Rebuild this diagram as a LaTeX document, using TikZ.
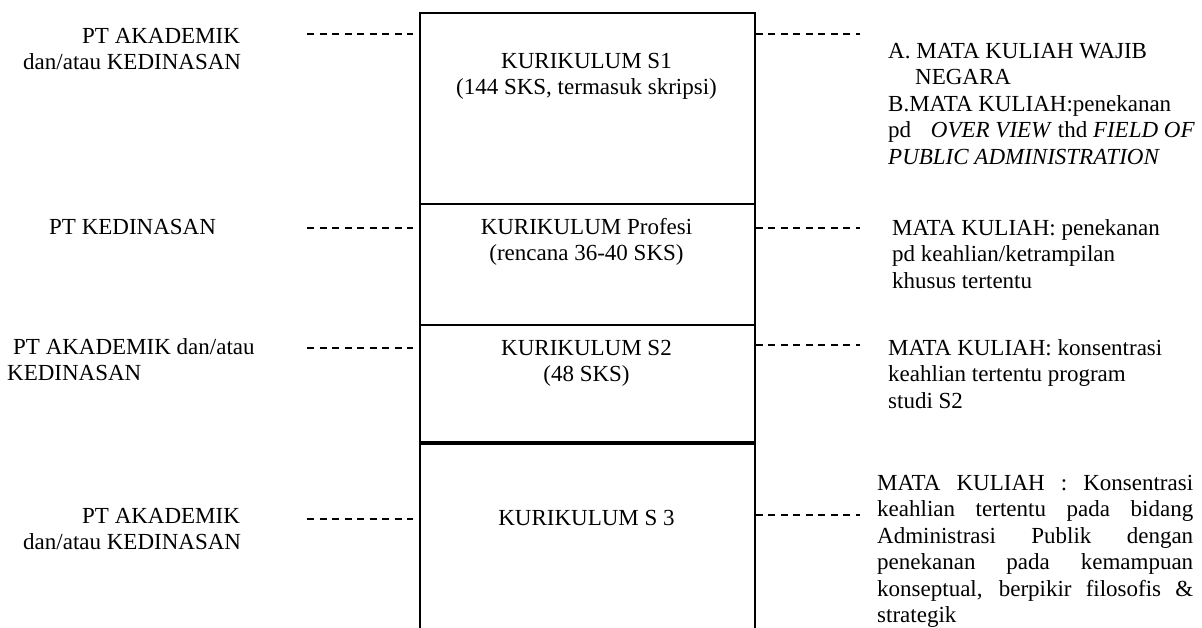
\documentclass[tikz,border=0pt]{standalone}
\usepackage{fontspec}
\setmainfont{Liberation Serif}
\newcommand\jline[1]{\makebox[316pt][s]{#1}}

\begin{document}
\begin{tikzpicture}
    [
      x=1pt,
      y=-1pt,
      sect/.style={rectangle,draw=black,line width=1.8pt,minimum width=335pt,anchor=north west,inner sep=0pt},
      lbl/.style={align=left,anchor=base west,inner sep=0pt,font=\fontsize{23}{26.5}\selectfont},
      ttl/.style={lbl,align=center,anchor=base},
      dashln/.style={line width=1.9pt,dash pattern=on 7pt off 5.5pt},
    ]
    \clip (0,0) rectangle (1202,627);

    \node at (419,12)  [sect, minimum height=191pt] (s1) {};
    \node at (419,203) [sect, minimum height=121pt] (s2) {};
    \node at (419,324) [sect, minimum height=119pt] (s3) {};
    \node at (419,443) [sect, minimum height=260pt] (s4) {};
    \draw[line width=3.2pt] (s4.north west) -- (s4.north east);

    % base = last line
    \node at (586.5,94.5)  [ttl] (t1) {KURIKULUM S1\\(144 SKS, termasuk skripsi)};
    \node at (586.5,260.5) [ttl] (t2) {KURIKULUM Profesi\\(rencana 36-40 SKS)};
    \node at (586.5,381.5) [ttl] (t3) {KURIKULUM S2\\(48 SKS)};
    \node at (586.5,525)   [ttl] (t4) {KURIKULUM S 3};

    \node at (23,69.5)  [lbl] (a1) {\hspace*{59pt}PT AKADEMIK\\dan/atau KEDINASAN};
    \node at (49,234)   [lbl] (a2) {PT KEDINASAN};
    \node at (7,380.5)  [lbl] (a3) {\hspace*{6pt}PT AKADEMIK dan/atau\\KEDINASAN};
    \node at (23,549.5) [lbl] (a4) {\hspace*{59pt}PT AKADEMIK\\dan/atau KEDINASAN};

    \node at (888,164)   [lbl] (b1) {A. MATA KULIAH WAJIB\\\hspace*{27pt}NEGARA\\B.MATA KULIAH:penekanan\\pd\hspace*{14pt} \textit{OVER VIEW} thd \textit{FIELD OF}\\\textit{PUBLIC ADMINISTRATION}};
    \node at (892,288)   [lbl] (b2) {MATA KULIAH: penekanan\\pd keahlian/ketrampilan\\khusus tertentu};
    \node at (888,408)   [lbl] (b3) {MATA KULIAH: konsentrasi\\keahlian tertentu program\\studi S2};
    \node at (877,622.5) [lbl] (b4) {\jline{MATA KULIAH : Konsentrasi}\\\jline{keahlian tertentu pada bidang}\\\jline{Administrasi Publik dengan}\\\jline{penekanan pada kemampuan}\\\jline{konseptual, berpikir filosofis \&}\\strategik};

    % dashed leaders, left side
    \coordinate (p1) at (307,34);
    \coordinate (p2) at (307,228);
    \coordinate (p3) at (307,348);
    \coordinate (p4) at (307,519);
    \draw[dashln, shorten >=6pt] (p1) -- (p1 -| s1.west);
    \draw[dashln, shorten >=6pt] (p2) -- (p2 -| s2.west);
    \draw[dashln, shorten >=6pt] (p3) -- (p3 -| s3.west);
    \draw[dashln, shorten >=6pt] (p4) -- (p4 -| s4.west);

    % dashed leaders, right side
    \coordinate (q1) at (860,34);
    \coordinate (q2) at (860,228);
    \coordinate (q3) at (860,345);
    \coordinate (q4) at (860,515);
    \draw[dashln] (q1 -| s1.east) -- (q1);
    \draw[dashln] (q2 -| s2.east) -- (q2);
    \draw[dashln] (q3 -| s3.east) -- (q3);
    \draw[dashln] (q4 -| s4.east) -- (q4);
\end{tikzpicture}
\end{document}
